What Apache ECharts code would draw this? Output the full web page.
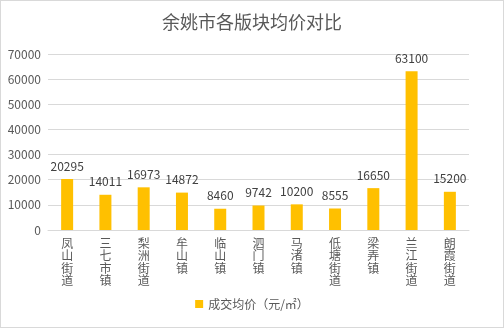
<!DOCTYPE html>
<html>
<head>
<meta charset="utf-8">
<script src="https://cdn.jsdelivr.net/npm/echarts@6/dist/echarts.min.js"></script>
<style>
html,body{margin:0;padding:0;background:#fff;}
#chart{width:504px;height:328px;box-sizing:border-box;border:1px solid #d9d9d9;}
</style>
</head>
<body>
<div id="chart"></div>
<script>
// 各版块名称与成交均价（元/㎡）
const districts = ['凤山街道','三七市镇','梨洲街道','牟山镇','临山镇','泗门镇','马渚镇','低塘街道','梁弄镇','兰江街道','朗霞街道'];
const avgPrice = [20295, 14011, 16973, 14872, 8460, 9742, 10200, 8555, 16650, 63100, 15200];
const seriesName = '成交均价（元/㎡）';
const titleText = '余姚市各版块均价对比';

const font = '"Microsoft YaHei","Noto Sans CJK SC",sans-serif';
const chart = echarts.init(document.getElementById('chart'));
chart.setOption({
  animation: false,
  textStyle: { fontFamily: font },
  title: {
    text: titleText,
    left: 'center',
    top: 7,
    textStyle: { fontSize: 18, fontWeight: 'normal', color: '#595959', fontFamily: font }
  },
  legend: {
    bottom: 12,
    left: 'center',
    itemWidth: 8,
    itemHeight: 8,
    icon: 'rect',
    textStyle: { fontSize: 12, color: '#595959', fontFamily: font },
    data: [seriesName]
  },
  grid: { left: 47, right: 34, top: 53, bottom: 97, containLabel: false },
  xAxis: {
    type: 'category',
    data: districts,
    axisTick: { show: false },
    axisLine: { lineStyle: { color: '#d9d9d9' } },
    axisLabel: {
      interval: 0,
      color: '#595959',
      fontSize: 12,
      lineHeight: 12.5,
      margin: 7,
      formatter: v => v.split('').join('\n')
    }
  },
  yAxis: {
    type: 'value',
    min: 0,
    max: 70000,
    interval: 10000,
    axisLine: { show: false },
    axisTick: { show: false },
    splitLine: { lineStyle: { color: '#d9d9d9' } },
    axisLabel: { color: '#595959', fontSize: 12, margin: 7, formatter: v => String(v) }
  },
  series: [{
    name: seriesName,
    type: 'bar',
    data: avgPrice,
    barWidth: 12,
    itemStyle: { color: '#ffc000' },
    label: {
      show: true,
      position: 'top',
      distance: 7,
      color: '#404040',
      fontSize: 12
    }
  }]
});
</script>
</body>
</html>
